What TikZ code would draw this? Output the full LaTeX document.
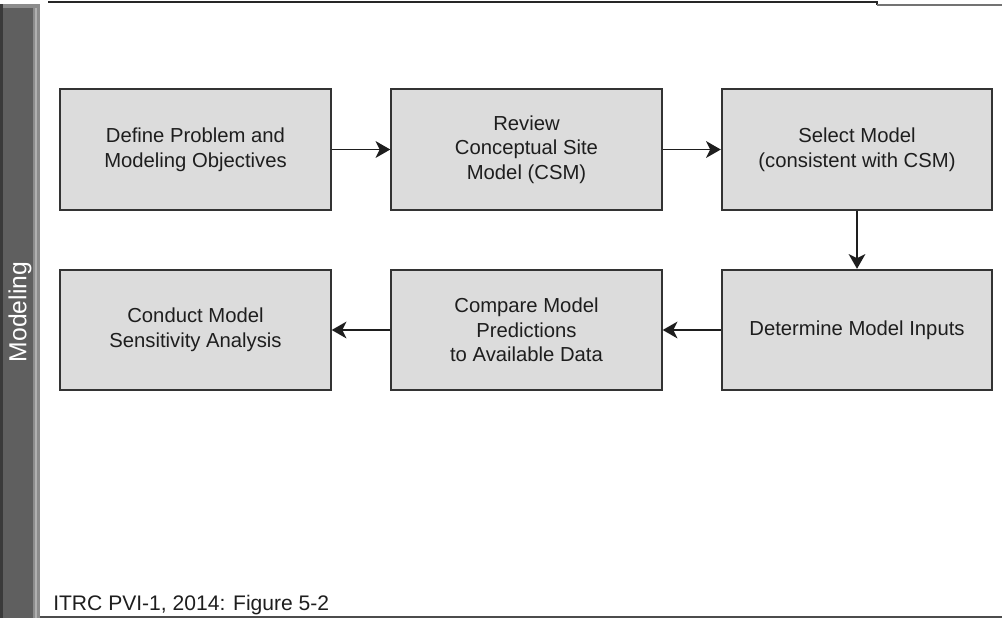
\documentclass[tikz,border=0pt]{standalone}
\usepackage{fontspec}
\setmainfont{Liberation Sans}
\usetikzlibrary{arrows.meta}
\definecolor{boxfill}{HTML}{DCDCDC}
\definecolor{boxline}{HTML}{333333}
\definecolor{txt}{HTML}{1E1E1E}
\definecolor{barmain}{HTML}{5F5F5F}
\definecolor{bardark}{HTML}{3A3A3A}
\definecolor{barlight}{HTML}{8C8C8C}
\definecolor{barhi}{HTML}{B0B0B0}
\tikzset{
  stepbox/.style={draw=boxline, line width=1.3pt, fill=boxfill,
    minimum width=203pt, minimum height=90.5pt, inner sep=0pt,
    align=center, text=txt, font=\fontsize{15.2pt}{18.4pt}\selectfont},
  flow/.style={draw=txt, line width=1.4pt,
    -{Stealth[length=11pt,width=12.5pt,inset=3pt]}}
}
\begin{document}
\begin{tikzpicture}[x=0.75pt,y=-0.75pt]
\useasboundingbox (0,0) rectangle (1002,618);
% side bar
\fill[barmain] (0,4) rectangle (40,618);
\fill[bardark] (0,4) rectangle (3,618);
\fill[barlight] (33,4) rectangle (40,618);
\fill[barhi] (35,8) rectangle (36.5,618);
\fill[barlight] (3,4) rectangle (40,8);
\node[rotate=90, text=white, font=\fontsize{18.5pt}{20pt}\selectfont] (lbl) at (20,312) {Modeling};
% frame lines
\draw[line width=1.6pt, draw=black!85] (48,2) -- (877,2) -- (877,5);
\draw[line width=1pt, draw=black!55] (877,5) -- (1002,5);
\draw[line width=1.5pt, draw=black!70] (40,617) -- (1002,617);
% boxes
\node[stepbox] (define) at (195.5,149.5) {Define Problem and\\Modeling Objectives};
\node[stepbox] (review) at (526.5,149.5) {Review\\Conceptual Site\\Model (CSM)};
\node[stepbox] (select) at (857,149.5) {Select Model\\(consistent with CSM)};
\node[stepbox] (inputs) at (857,330) {Determine Model Inputs};
\node[stepbox] (compare) at (526.5,330) {Compare Model\\Predictions\\to Available Data};
\node[stepbox] (conduct) at (195.5,330) {Conduct Model\\Sensitivity Analysis};
% connectors
\draw[flow] (define) -- (review);
\draw[flow] (review) -- (select);
\draw[flow] (select) -- (inputs);
\draw[flow] (inputs) -- (compare);
\draw[flow] (compare) -- (conduct);
% footer
\node[anchor=base west, inner sep=0pt, text=txt, font=\fontsize{15.8pt}{18pt}\selectfont] (foot) at (53,610) {ITRC PVI-1, 2014: Figure 5-2};
\end{tikzpicture}
\end{document}
